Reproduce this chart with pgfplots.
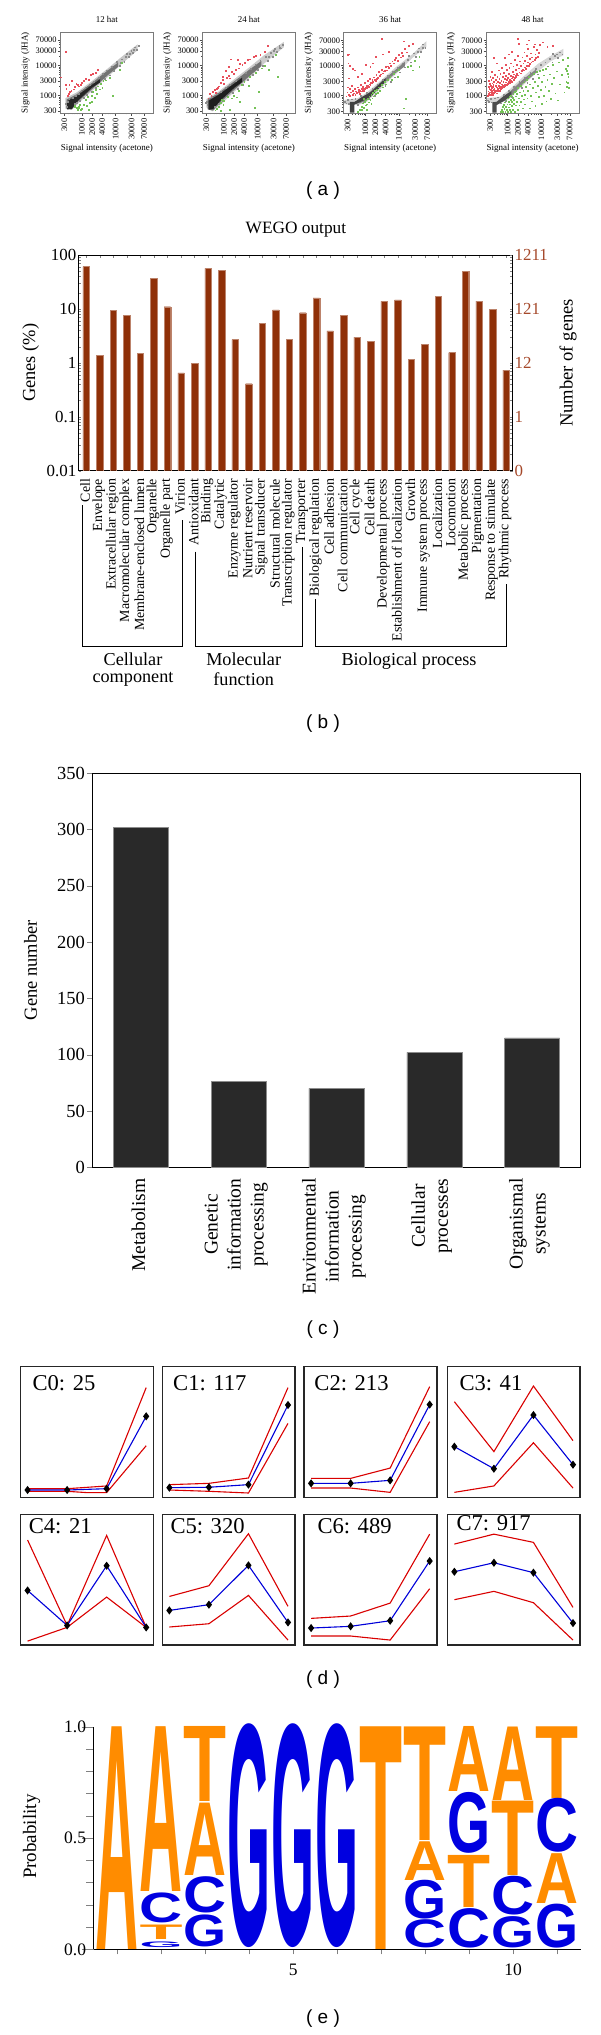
\documentclass[border=0pt]{standalone}
\usepackage{fontspec}
\setmainfont{Liberation Serif}
\setsansfont{Liberation Sans}
\newfontfamily\logofont{Liberation Sans}
\usepackage{pgfplots}
\pgfplotsset{compat=1.18}
\definecolor{boxgray}{HTML}{7A7A7A}
\definecolor{redpt}{HTML}{E8505C}
\definecolor{greenpt}{HTML}{74C256}
\definecolor{graypt}{HTML}{8C8C8C}
\definecolor{wegobar}{HTML}{8F3008}
\definecolor{wegotxt}{HTML}{A5482A}
\definecolor{logoorange}{HTML}{FF8C00}
\definecolor{logoblue}{HTML}{0000E0}
\newcommand{\fs}[1]{\fontsize{#1}{#1}\selectfont}
\pgfplotsset{
  sigpanel/.style={scale only axis,width=93pt,height=80.7pt,
    xmin=228,xmax=132000,ymin=257,ymax=126000,
    xtick={300,1000,2000,4000,10000,30000,70000},
    xticklabels={300,1000,2000,4000,10000,30000,70000},
    ytick={300,1000,3000,10000,30000,70000},
    yticklabels={300,1000,3000,10000,30000,70000},
    minor xtick={400,500,600,700,800,900,3000,5000,6000,7000,8000,9000,20000,40000,50000,60000},
    minor ytick={400,500,600,700,800,900,2000,4000,5000,6000,7000,8000,9000,20000,40000,50000,60000},
    tick align=outside,xtick pos=bottom,ytick pos=left,
    major tick length=2.5pt,minor tick length=1.3pt,
    axis line style={color=boxgray,line width=1pt},
    tick style={color=black!70,line width=.3pt},
    tick label style={font=\fs{8.4},inner sep=1pt},
    x tick label style={yshift=-2pt,rotate=90,anchor=east},
    xlabel={Signal intensity (acetone)},ylabel={Signal intensity (JHA)},
    every axis x label/.style={at={(axis description cs:.5,-.434)},anchor=center,font=\fs{9}},
    every axis y label/.style={at={(axis description cs:-.375,.5)},rotate=90,anchor=center,font=\fs{9}},
    title style={at={(axis description cs:.5,1.09)},anchor=center,font=\fs{8.9}}},
  ptgray/.style={mark=square*,mark size=.42pt,color=graypt,draw=none,mark options={draw=none,fill=graypt},only marks,forget plot},
  ptred/.style={mark=square*,mark size=.42pt,color=redpt,draw=none,mark options={draw=none,fill=redpt},only marks,forget plot},
  ptgreen/.style={mark=square*,mark size=.42pt,color=greenpt,draw=none,mark options={draw=none,fill=greenpt},only marks,forget plot},
  clupanel/.style={scale only axis,width=132.6pt,height=130.6pt,xmin=.826,xmax=4.18,ymin=0,ymax=100,
    xtick=\empty,ytick=\empty,axis line style={line width=1.5pt,color=black!85},
    title style={font=\fs{22.6},anchor=west}},
  rline/.style={color=red!85!black,line width=1.1pt,no markers},
  bline/.style={color=blue!85!black,line width=1.1pt,mark=diamond*,mark size=3.2pt,mark options={fill=black,draw=black}},
}
% one cluster panel: x, bottom, title, title x, title y, upper, mean, lower
\newcommand{\clust}[8]{%
\begin{axis}[clupanel,at={(#1pt,-#2pt)},anchor=south west,title={#3},
  title style={at={(axis description cs:#4,#5)}}]
\addplot[rline] coordinates {#6};
\addplot[rline] coordinates {#8};
\addplot[bline] coordinates {#7};
\end{axis}}
\begin{document}
\begin{tikzpicture}[x=1pt,y=1pt]
\useasboundingbox (0,0) rectangle (600,-2035);

% --- (a) scatter panels
\begin{axis}[xmode=log,ymode=log,sigpanel,at={(60.3pt,-113pt)},anchor=south west,title={12 hat}]
\addplot[draw=none,fill=black!22,forget plot] coordinates {(320,360)(320,800)(700,1250)(2000,3000)(6000,8000)(15000,19000)(45000,50000)(45000,32000)(15000,11000)(6000,4200)(2000,1400)(800,560)(500,330)(320,360)};
\addplot[draw=none,fill=black!55,forget plot] coordinates {(350,350)(350,720)(700,1080)(2000,2600)(6000,6900)(12000,12500)(12000,9000)(6000,4800)(2000,1600)(800,650)(500,340)(350,350)};
\addplot[draw=none,fill=black!85,forget plot] coordinates {(365,340)(365,640)(700,950)(2000,2250)(3500,3500)(3500,2700)(2000,1800)(800,700)(500,350)(365,340)};
\addplot[ptgray] coordinates {(330,520)(350,420)(380,620)(420,760)(520,830)(600,520)(640,1000)(700,560)(780,1150)(850,660)(950,1400)(1100,830)(1250,1750)(1400,1050)(1700,2300)(1900,1350)(2300,2900)(2600,1800)(3100,3900)(3500,2500)(4200,5100)(4800,3500)(5600,6900)(6500,4700)(7500,8900)(9000,6600)(11000,13000)(13000,9800)(15000,16000)(18000,13500)(21000,24000)(25000,19000)(29000,30000)(33000,26000)(38000,40000)(43000,33000)(48000,44000)(20000,20000)(27000,25000)(14000,12500)(35000,33000)};
\addplot[ptred] coordinates {(330,29000)(240,4000)(330,2200)(370,1000)(410,1100)(430,1300)(480,1400)(420,2200)(510,3100)(600,1900)(680,2400)(750,2200)(900,2300)(1150,3000)(1300,3600)(1600,3400)(1800,5000)(2100,5300)(2600,5600)(3000,7200)(340,1700)(560,1600)(800,2000)(1000,2700)};
\addplot[ptgreen] coordinates {(600,400)(700,380)(750,340)(820,420)(900,330)(850,480)(1000,350)(1150,500)(1300,700)(1400,450)(1500,900)(1700,560)(1900,1000)(2000,620)(2100,1300)(2400,850)(2500,1500)(2800,1100)(3000,2000)(3300,1600)(3600,2400)(4000,1800)(4300,3000)(5000,3200)(6500,3800)(8000,1000)(13000,7000)(15000,12000)(600,450)(1600,330)(780,370)};
\end{axis}

\begin{axis}[xmode=log,ymode=log,sigpanel,at={(202.3pt,-113pt)},anchor=south west,title={24 hat}]
\addplot[draw=none,fill=black!20,forget plot] coordinates {(300,400)(300,750)(700,1350)(2000,3400)(6000,9000)(15000,21000)(60000,60000)(60000,40000)(15000,11000)(6000,4000)(2000,1300)(800,480)(450,290)(300,400)};
\addplot[draw=none,fill=black!55,forget plot] coordinates {(330,340)(330,720)(700,1200)(2000,2900)(6000,7500)(13000,14000)(13000,9500)(6000,4600)(2000,1500)(800,600)(480,310)(330,340)};
\addplot[draw=none,fill=black!88,forget plot] coordinates {(350,330)(350,660)(700,1050)(2000,2450)(3500,3900)(3500,2800)(2000,1750)(800,680)(480,350)(350,330)};
\addplot[ptgray] coordinates {(280,560)(300,620)(320,480)(360,800)(430,900)(520,420)(620,1150)(700,520)(800,1350)(900,640)(1100,1750)(1300,900)(1500,2300)(1800,1200)(2200,3100)(2600,1650)(3000,4000)(3600,2300)(4500,5800)(5200,3300)(6200,7800)(7200,5000)(8500,10500)(10000,7000)(12000,14000)(14000,9800)(17000,19000)(20000,14000)(24000,26000)(28000,20000)(33000,35000)(38000,28000)(44000,44000)(50000,37000)(56000,50000)(30000,30000)(22000,20000)(46000,38000)};
\addplot[ptred] coordinates {(340,800)(380,1100)(420,1000)(460,1300)(520,1500)(560,1200)(640,1800)(720,2000)(800,2700)(900,3300)(1000,2500)(1200,3900)(1350,4600)(1500,3700)(1700,6000)(1900,5400)(2200,7000)(1600,16000)(2500,15000)(3000,11000)(3500,10500)(4200,12000)(5000,15000)(6000,16000)(7500,19000)(9000,21000)(12000,22000)(16000,29000)(20000,44000)(900,4200)(1400,9000)(600,1700)(2800,8000)(1100,6500)};
\addplot[ptgreen] coordinates {(550,320)(700,430)(780,560)(850,700)(950,500)(1000,640)(1300,900)(1500,330)(1700,800)(2000,1000)(2400,860)(2700,1400)(3000,600)(3300,2300)(4000,2900)(5500,2100)(6000,4300)(8000,380)(9000,5800)(11000,1300)(13000,8000)(16000,9500)(22000,7000)(40000,4300)(35000,22000)(600,360)(800,300)};
\end{axis}

\begin{axis}[xmode=log,ymode=log,sigpanel,at={(343.7pt,-113.3pt)},anchor=south west,title={36 hat}]
\addplot[draw=none,fill=black!18,forget plot] coordinates {(240,520)(240,720)(600,820)(1100,1250)(3000,3300)(8000,8800)(25000,24000)(65000,65000)(65000,42000)(25000,18000)(8000,5200)(3000,1800)(1100,620)(600,480)(240,520)};
\addplot[draw=none,fill=black!50,forget plot] coordinates {(460,520)(700,820)(1200,1150)(3000,2950)(8000,7300)(15000,13500)(15000,9500)(8000,5700)(3000,2200)(1200,750)(700,560)(460,520)};
\addplot[draw=none,fill=black!75,forget plot] coordinates {(350,270)(350,620)(480,620)(800,900)(1500,1350)(4000,3800)(4000,2900)(1500,950)(800,650)(470,500)(470,270)(350,270)};
\addplot[ptgray] coordinates {(250,640)(270,560)(300,720)(330,540)(400,760)(500,800)(600,500)(750,980)(900,620)(1100,1280)(1300,780)(1600,1700)(1900,1000)(2300,2400)(2700,1500)(3300,3300)(3900,2100)(4700,4500)(5600,2900)(6500,6300)(7600,4100)(9000,8400)(10500,6000)(12500,12000)(15000,8800)(18000,16000)(22000,13000)(27000,26000)(32000,20000)(38000,38000)(45000,30000)(52000,52000)(60000,40000)(20000,22000)(35000,30000)(50000,40000)};
\addplot[ptred] coordinates {(270,950)(290,1300)(300,1900)(320,1100)(340,1650)(350,1000)(370,1300)(390,2100)(410,1050)(430,1500)(450,1200)(480,1750)(500,1100)(530,1400)(560,1250)(580,1900)(600,1300)(620,1600)(650,1350)(680,1150)(700,1500)(730,2300)(760,1400)(790,1700)(820,1550)(850,2000)(880,1500)(920,1750)(950,2700)(990,1650)(1020,1900)(1060,2200)(1100,1800)(1150,2100)(1200,3100)(1250,2000)(1300,2400)(1350,3700)(1400,2300)(1480,2700)(1550,2600)(1600,3300)(1700,2900)(1800,4100)(1900,3300)(2000,3100)(2100,5000)(2200,3700)(2400,3900)(2500,6200)(2700,4500)(2900,5200)(3100,7500)(3300,5600)(3500,6500)(3800,6700)(4000,9000)(4300,7000)(4600,9500)(5000,8500)(5400,12000)(5800,10000)(6300,14000)(7000,12000)(7500,16000)(8200,18000)(9000,15000)(10000,23000)(11000,19000)(12000,27000)(13000,22000)(15000,36000)(17000,28000)(20000,45000)(25000,55000)(14000,65000)(3000,78000)(300,23000)(330,24000)(350,10000)(310,12000)(420,8000)(470,7000)(320,3800)(1000,11000)(1400,9000)(2000,20000)(3300,24000)(5000,30000)(800,5500)(1700,12000)(600,4200)};
\addplot[ptgreen] coordinates {(700,330)(760,420)(820,560)(880,390)(940,620)(1000,480)(1050,700)(1100,520)(1200,780)(1250,600)(1300,950)(1400,720)(1500,1050)(1600,820)(1700,1250)(1800,950)(1900,1450)(2000,1150)(2200,1600)(2300,1250)(2500,1900)(2700,1500)(3000,2300)(3300,1900)(3800,2900)(4000,2400)(4500,3500)(5500,4300)(6000,3300)(7000,5400)(8000,6500)(9000,4200)(10000,7500)(14000,380)(16000,800)(18000,9000)(22000,10000)(25000,7000)(30000,15000)(40000,20000)(40000,9000)(800,350)(1100,340)(1500,540)(900,800)(600,300)};
\end{axis}

\begin{axis}[xmode=log,ymode=log,sigpanel,at={(486pt,-113.3pt)},anchor=south west,title={48 hat}]
\addplot[draw=none,fill=black!16,forget plot] coordinates {(240,600)(240,820)(600,920)(1100,1550)(3000,4400)(8000,11500)(20000,22000)(45000,36000)(45000,22000)(20000,14500)(8000,6500)(3000,2300)(1100,750)(600,560)(240,600)};
\addplot[draw=none,fill=black!48,forget plot] coordinates {(460,560)(700,880)(1200,1400)(3000,3600)(7000,7500)(7000,5800)(3000,2600)(1200,900)(700,620)(460,560)};
\addplot[draw=none,fill=black!70,forget plot] coordinates {(350,270)(350,600)(470,620)(800,1000)(1300,1400)(1300,1000)(800,680)(470,480)(470,270)(350,270)};
\addplot[ptgray] coordinates {(250,700)(280,640)(310,780)(340,600)(420,820)(520,880)(620,560)(780,1080)(900,680)(1100,1500)(1300,900)(1500,1950)(1800,1200)(2200,2900)(2600,1800)(3200,4000)(3800,2700)(4700,5700)(5600,3700)(6800,8000)(8000,5200)(9500,10500)(11000,7000)(13000,13000)(15000,9500)(18000,17000)(21000,13000)(25000,22000)(30000,18000)(36000,28000)(42000,24000)(22000,25000)(28000,24000)};
\addplot[ptred] coordinates {(260,1000)(265,1400)(270,2000)(275,1150)(280,3100)(285,1700)(290,1050)(295,2500)(300,1300)(305,4400)(310,1600)(315,1100)(320,2100)(325,3400)(330,1250)(335,1800)(340,6100)(345,1450)(350,2600)(355,1100)(360,1950)(365,3900)(370,1300)(375,2300)(380,1600)(385,18000)(390,1200)(395,2900)(400,1700)(410,5000)(420,1350)(430,2100)(440,3400)(450,1500)(460,2600)(470,1200)(480,1900)(490,4300)(500,1450)(510,3000)(520,1700)(530,7000)(540,2200)(550,1400)(560,3700)(570,1800)(580,2700)(590,1500)(600,5400)(615,2000)(630,1650)(645,3200)(660,2400)(675,8500)(690,1800)(705,4200)(720,2100)(740,2900)(760,1900)(780,5900)(800,2400)(820,3600)(840,2100)(860,11000)(880,2800)(900,4600)(920,2300)(940,3300)(960,7400)(980,2600)(1000,3900)(1030,2500)(1060,5400)(1090,3000)(1120,8600)(1150,3500)(1180,2700)(1210,4700)(1240,3200)(1270,12000)(1300,3800)(1340,3000)(1380,6200)(1420,4300)(1460,9600)(1500,3500)(1550,5200)(1600,3900)(1650,16000)(1700,4600)(1750,7300)(1800,4100)(1850,11000)(1900,5400)(1950,22000)(2000,4800)(2100,8200)(2200,6000)(2300,14000)(2400,5600)(2500,9800)(2600,6800)(2700,19000)(2800,7600)(2900,12000)(3000,7000)(3100,28000)(3200,8800)(3300,15000)(3400,8000)(3600,22000)(3700,10000)(3900,13000)(4000,36000)(4200,9800)(4400,17000)(4600,11500)(4800,26000)(5000,13000)(5300,19000)(5600,14000)(5900,42000)(6200,16000)(6600,24000)(7000,18000)(7400,33000)(7800,20000)(8200,27000)(2000,80000)(4200,70000)(3600,52000)(11000,60000)(15000,42000)(22000,45000)(2100,55000)(1300,30000)(800,18000)(480,12000)(9000,50000)(6500,52000)(1100,24000)};
\addplot[ptgreen] coordinates {(640,290)(680,340)(700,420)(730,300)(760,500)(790,360)(820,600)(850,300)(880,430)(910,700)(940,340)(970,520)(1000,820)(1030,300)(1060,620)(1090,410)(1120,900)(1150,330)(1180,520)(1210,740)(1240,290)(1270,1000)(1300,450)(1340,620)(1380,850)(1420,350)(1460,1150)(1500,540)(1550,720)(1600,1350)(1650,300)(1700,950)(1750,480)(1800,1500)(1850,640)(1900,1150)(1950,330)(2000,1800)(2100,820)(2200,480)(2300,1300)(2400,2200)(2500,640)(2600,980)(2700,2600)(2800,380)(2900,1500)(3000,760)(3100,3000)(3200,1100)(3300,520)(3500,2000)(3600,3500)(3800,820)(4000,1500)(4200,4200)(4400,380)(4600,2400)(4800,1000)(5000,4800)(5300,650)(5600,1800)(5900,5500)(6200,3000)(6600,450)(7000,1300)(7400,6300)(7800,2200)(8200,900)(8600,4000)(9000,6800)(9500,1600)(10000,550)(10500,3000)(11000,7500)(11500,1000)(12000,4800)(13000,2000)(13500,8000)(14000,650)(15000,3400)(16000,9500)(17000,1500)(18000,5200)(19000,800)(20000,2500)(22000,11000)(24000,4000)(26000,1200)(28000,6500)(30000,700)(33000,13000)(36000,2400)(40000,5000)(44000,16000)(48000,1300)(52000,8000)(55000,3000)(58000,2000)(60000,5500)(62000,10000)(62000,18000)(60000,2700)(65000,1800)(57000,6800)(63000,4200)};
\end{axis}
\node[font=\sffamily\fs{19}] at (323,-190.5) {( a )};

% --- (b) WEGO output
\begin{axis}[scale only axis,width=434pt,height=215.7pt,at={(78.5pt,-470.7pt)},anchor=south west,
  ymode=log,log origin=infty,ymin=.01,ymax=100,xmin=.432,xmax=32.47,
  ybar,bar width=6.5pt,
  title={WEGO output},title style={at={(axis description cs:.501,1.089)},anchor=center,font=\fs{17.3}},
  ylabel={Genes (\%)},
  every axis y label/.style={at={(axis description cs:-.11,.5)},rotate=90,anchor=center,font=\fs{18.4}},
  ytick={.01,.1,1,10,100},yticklabels={0.01,0.1,1,10,100},
  ytick pos=left,tick align=inside,major tick length=2.5pt,
  y tick label style={font=\fs{16.9},inner sep=2pt},
  xtick={1,...,32},xtick pos=both,
  xticklabels={Cell,Envelope,Extracellular region,Macromolecular complex,Membrane-enclosed lumen,Organelle,Organelle part,Virion,Antioxidant,Binding,Catalytic,Enzyme regulator,Nutrient reservoir,Signal transducer,Structural molecule,Transcription regulator,Transporter,Biological regulation,Cell adhesion,Cell communication,Cell cycle,Cell death,Developmental process,Establishment of localization,Growth,Immune system process,Localization,Locomotion,Metabolic process,Pigmentation,Response to stimulate,Rhythmic process},
  x tick label style={yshift=-8pt,xshift=-1pt,rotate=90,anchor=east,font=\fs{13.9},inner sep=0pt},
  axis line style={line width=1pt}]
\addplot[fill=wegobar,draw=wegobar!60!white,line width=.4pt] coordinates {
(1,60.8)(2,1.39)(3,9.4)(4,7.7)(5,1.5)(6,37)(7,11)(8,.65)(9,.99)(10,56.6)(11,52)(12,2.7)(13,.41)(14,5.4)(15,9.6)(16,2.7)(17,8.5)(18,16)(19,3.9)(20,7.7)(21,3)(22,2.5)(23,13.8)(24,14.8)(25,1.15)(26,2.2)(27,17)(28,1.55)(29,50)(30,14)(31,9.9)(32,.73)};
\end{axis}
\begin{axis}[scale only axis,width=434pt,height=215.7pt,at={(78.5pt,-470.7pt)},anchor=south west,
  ymode=log,ymin=.01,ymax=100,xmin=.432,xmax=32.47,axis x line=none,axis y line*=right,
  ylabel={Number of genes},
  every axis y label/.style={at={(axis description cs:1.128,.5)},rotate=90,anchor=center,font=\fs{18.6}},
  ytick={.01,.1,1,10,100},yticklabels={0,1,12,121,1211},
  tick align=inside,major tick length=2.5pt,
  y tick label style={font=\fs{16.9},text=wegotxt,inner sep=2pt},
  axis line style={line width=1pt}]
\end{axis}
\draw[line width=.8pt] (82.4,-505) -- (82.4,-646) -- (182.8,-646) -- (182.8,-520);
\draw[line width=.8pt] (195.4,-551.7) -- (195.4,-646) -- (302.7,-646) -- (302.7,-547);
\draw[line width=.8pt] (315.7,-599) -- (315.7,-646) -- (506.1,-646) -- (506.1,-584);
\node[font=\fs{18.2},align=center] at (133,-659) {Cellular};
\node[font=\fs{18.2},align=center] at (133,-679) {component};
\node[font=\fs{18.2},align=center] at (243.7,-659) {Molecular};
\node[font=\fs{18.2},align=center] at (243.7,-679) {function};
\node[font=\fs{18.2}] at (409,-660.7) {Biological process};
\node[font=\sffamily\fs{19}] at (323,-724) {( b )};

% --- (c) gene number per pathway class
\begin{axis}[scale only axis,width=488pt,height=394.3pt,at={(92pt,-1167.3pt)},anchor=south west,
  ybar,bar width=55pt,xmin=-.5,xmax=4.49,ymin=0,ymax=350,
  ytick={0,50,...,350},yticklabels={0,50,100,150,200,250,300,350},
  ytick pos=left,tick align=outside,major tick length=5pt,
  xtick={0,...,4},major x tick style={draw=none},
  xticklabels={Metabolism,Genetic\\information\\processing,Environmental\\information\\processing,Cellular\\processes,Organismal\\systems},
  x tick label style={yshift=-6pt,xshift=-2.5pt,rotate=90,anchor=east,align=center,font=\fontsize{19.5}{23}\selectfont,inner sep=0pt},
  y tick label style={font=\fs{18.5},inner sep=2pt},
  ylabel={Gene number},
  every axis y label/.style={at={(axis description cs:-.126,.5)},rotate=90,anchor=center,font=\fs{18.5}},
  axis line style={line width=.9pt}]
\addplot[fill=black!84,draw=black!45,line width=.5pt] coordinates {(0,302)(1,76)(2,70)(3,102)(4,115)};
\end{axis}
\node[font=\sffamily\fs{19}] at (323,-1330) {( c )};

% --- (d) expression clusters
\clust{20.7}{1497.3}{C0: 25}{.063}{.83}{(1,6.6)(2,6.6)(3,8.7)(4,84)}{(1,5.6)(2,5.6)(3,6.6)(4,62)}{(1,4.6)(2,4.6)(2.5,3.6)(3,3.6)(4,39.5)}
\clust{162.5}{1497.3}{C1: 117}{.054}{.83}{(1,9.7)(2,10.7)(3,14.8)(4,84)}{(1,7.4)(2,7.7)(3,9.7)(4,70.7)}{(1,5.6)(2,4.6)(3,3.3)(4,56.6)}
\clust{304.2}{1497.3}{C2: 213}{.051}{.83}{(1,14.5)(2,14.5)(3,22.4)(4,84.7)}{(1,10.7)(2,10.7)(3,13)(4,71)}{(1,7.1)(2,7.1)(3,3.8)(4,57.9)}
\clust{447.5}{1497.3}{C3: 41}{.064}{.83}{(1,73.2)(2,35)(3,85.2)(4,43.4)}{(1,38.8)(2,21.9)(3,63)(4,25)}{(1,3.8)(2,8.7)(3,41.8)(4,7.1)}
\clust{20.7}{1645}{C4: 21}{.035}{.865}{(1,80.4)(2,15)(3,83.9)(4,13.5)}{(1,41.8)(2,15)(3,60.7)(4,13.5)}{(1,3)(2,13.5)(3,36.7)(4,13.5)}
\clust{162.5}{1645}{C5: 320}{.034}{.865}{(1,37.2)(2,45.4)(3,85.2)(4,29.6)}{(1,26.5)(2,30.9)(3,61)(4,17.3)}{(1,13.8)(2,16.3)(3,38)(4,3.8)}
\clust{304.2}{1645}{C6: 489}{.074}{.865}{(1,20.4)(2,22.2)(3,32.1)(4,84.9)}{(1,13)(2,14.3)(3,18.6)(4,64.3)}{(1,6.9)(2,6.9)(3,3.8)(4,43.1)}
\clust{447.5}{1645}{C7: 917}{.042}{.888}{(1,77.3)(2,84.9)(3,78.6)(4,28.8)}{(1,56.1)(2,63)(3,55.4)(4,16.8)}{(1,34.7)(2,41.1)(3,32.4)(4,3.8)}
\node[font=\sffamily\fs{19}] at (323,-1680) {( d )};

% --- (e) sequence logo
\begin{axis}[scale only axis,width=486.6pt,height=222.6pt,at={(93.9pt,-1949.3pt)},anchor=south west,
  xmin=.47,xmax=11.53,ymin=0,ymax=1,clip=false,
  axis x line=bottom,axis y line=left,axis line style={-,line width=.9pt},
  xtick={1,...,11},xticklabels={,,,,5,,,,,10,},
  ytick={0,.5,1},yticklabels={0.0,0.5,1.0},minor ytick={.1,.2,.3,.4,.6,.7,.8,.9},
  tick align=outside,major x tick style={line width=.6pt},
  x tick style={/pgfplots/major tick length=5pt},
  y tick style={/pgfplots/major tick length=12pt},minor tick length=7.7pt,
  tick label style={font=\fs{17.5}},x tick label style={yshift=-7pt},
  ylabel={Probability},
  every axis y label/.style={at={(axis description cs:-.128,.506)},rotate=90,anchor=center,font=\fs{19}},
  nodes near coords={\pgfmathsetmacro\hh{\h*222.6}\resizebox{43pt}{\hh pt}{\logofont\bfseries\lett}},
  nodes near coords style={anchor=south,inner sep=0pt,outer sep=0pt},
  visualization depends on={\thisrow{h}\as\h},
  visualization depends on={value \thisrow{l}\as\lett}]
\addplot[only marks,mark=none,nodes near coords style={text=logoorange}] table[x=x,y=b] {
x b h l
1 0 1 A
2 .26 .74 A
2 .045 .065 T
3 .663 .337 T
3 .33 .325 A
7 0 1 T
8 .49 .51 T
8 .31 .174 A
9 .708 .292 A
9 .19 .234 T
10 .67 .33 A
10 .332 .334 T
11 .678 .322 T
11 .207 .224 A
};
\addplot[only marks,mark=none,nodes near coords style={text=logoblue}] table[x=x,y=b] {
x b h l
2 .117 .133 C
2 .01 .025 G
3 .165 .161 C
3 .012 .142 G
4 .01 .99 G
5 .01 .99 G
6 .01 .99 G
8 .135 .172 G
8 .005 .125 C
9 .43 .27 G
9 .005 .175 C
10 .154 .172 C
10 .005 .139 G
11 .435 .239 C
11 .005 .195 G
};
\end{axis}
\node[font=\sffamily\fs{19}] at (323,-2019) {( e )};
\end{tikzpicture}
\end{document}
